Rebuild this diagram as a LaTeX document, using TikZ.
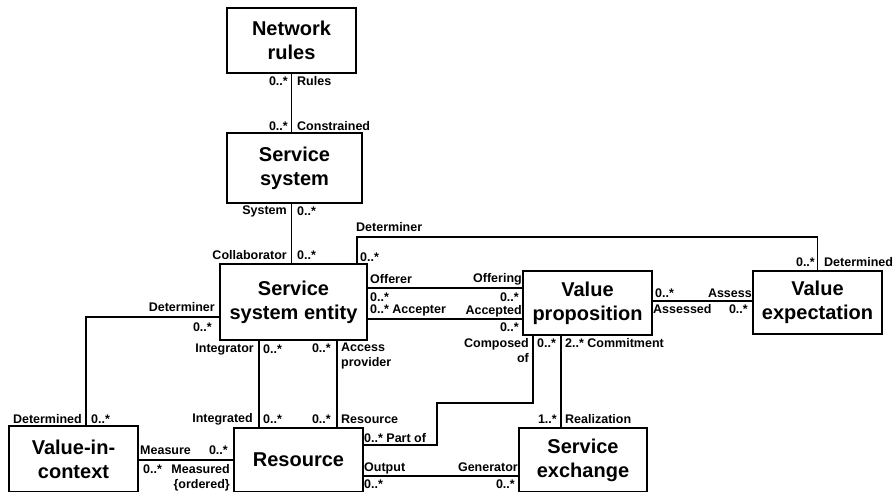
\documentclass[tikz,border=0pt]{standalone}
\usepackage{fontspec}
\setmainfont{Liberation Sans}
\begin{document}
\begin{tikzpicture}[x=1pt,y=-1pt,
  cls/.style={draw, line width=2pt, inner sep=0pt, align=center,
    font=\fontsize{20}{24}\selectfont\bfseries},
  assoc/.style={line width=1.9pt},
  lab/.style={inner sep=0pt, font=\fontsize{12.5}{15}\selectfont\bfseries},
  lw/.style={lab, anchor=west},
  le/.style={lab, anchor=east}]
\useasboundingbox (0,0) rectangle (896,491);
\clip (0,0) rectangle (896,491);
\fill[white] (0,0) rectangle (896,491);

% classes
\node[cls, minimum width=129pt, minimum height=65pt] (nr)  at (291.5,40.5) {Network\\rules};
\node[cls, minimum width=135pt, minimum height=70pt] (ss)  at (294.5,168)  {Service\\system};
\node[cls, minimum width=147pt, minimum height=76pt] (sse) at (293.5,302)  {Service\\system entity};
\node[cls, minimum width=129pt, minimum height=64pt] (vp)  at (587.5,303)  {Value\\proposition};
\node[cls, minimum width=129pt, minimum height=63pt] (ve)  at (817.5,302.5) {Value\\expectation};
\node[cls, minimum width=129pt, minimum height=66pt] (vic) at (73.5,459)   {Value-in-\\context};
\node[cls, minimum width=129pt, minimum height=64pt] (res) at (298.5,460)  {Resource};
\node[cls, minimum width=128pt, minimum height=64pt] (se)  at (583,460)    {Service\\exchange};

% bends of the routed associations
\coordinate (detA) at (357,237);
\coordinate (vicA) at (86,317);
\coordinate (partA) at (437,403);

% associations
\draw[assoc] (nr.south) -- (nr.south |- ss.north);
\draw[assoc] (ss.south -| nr.south) -- (sse.north -| nr.south);
\draw[assoc] (sse.north -| detA) -- (detA) -| (ve.north);
\draw[assoc] (sse.east |- 0,288) -- (vp.west |- 0,288);
\draw[assoc] (sse.east |- 0,319) -- (vp.west |- 0,319);
\draw[assoc] (vp.east |- 0,301) -- (ve.west |- 0,301);
\draw[assoc] (sse.west |- vicA) -- (vicA) -- (vic.north -| vicA);
\draw[assoc] (sse.south -| 259,0) -- (res.north -| 259,0);
\draw[assoc] (sse.south -| 337,0) -- (res.north -| 337,0);
\draw[assoc] (vic.east |- 0,460) -- (res.west |- 0,460);
\draw[assoc] (res.east |- 0,445) -| (partA) -| (vp.south -| 533,0);
\draw[assoc] (vp.south -| 561,0) -- (se.north -| 561,0);
\draw[assoc] (res.east |- 0,476) -- (se.west |- 0,476);

% role names and multiplicities
\node[le] at (288,81) {0..*};
\node[lw] at (297,81) {Rules};
\node[le] at (288,126) {0..*};
\node[lw] at (297,126) {Constrained};

\node[le] at (287,211) {System};
\node[lw] at (297,211) {0..*};
\node[le] at (287,255) {Collaborator};
\node[lw] at (297,255) {0..*};

\node[lw] at (356,227) {Determiner};
\node[lw] at (360,257) {0..*};
\node[le] at (815,262) {0..*};
\node[lw] at (824,262) {Determined};

\node[lw] at (370,279) {Offerer};
\node[lw] at (370,297) {0..*};
\node[le] at (522,279) {Offering};
\node[le] at (519,297) {0..*};

\node[lw] at (370,310) {0..* Accepter};
\node[le] at (522,311) {Accepted};
\node[le] at (519,327) {0..*};

\node[lw] at (655,293) {0..*};
\node[lw] at (653,309) {Assessed};
\node[le] at (752,293) {Assess};
\node[le] at (748,309) {0..*};

\node[le] at (215,307) {Determiner};
\node[le] at (212,327) {0..*};
\node[le] at (82,419) {Determined};
\node[lw] at (91,419) {0..*};

\node[le] at (254,350) {Integrator};
\node[lw] at (263,349) {0..*};
\node[le] at (253,419) {Integrated};
\node[lw] at (263,419) {0..*};

\node[le] at (331,348) {0..*};
\node[lw, align=left] at (341,356) {Access\\provider};
\node[le] at (331,419) {0..*};
\node[lw] at (341,419) {Resource};

\node[lw] at (364,438) {0..* Part of};
\node[le, align=right] at (529,350.5) {Composed\\of};
\node[lw] at (537,343) {0..*};

\node[lw] at (565,343) {2..* Commitment};
\node[le] at (557,419) {1..*};
\node[lw] at (565,419) {Realization};

\node[lw] at (364,468) {Output};
\node[lw] at (364,484) {0..*};
\node[le] at (518,467) {Generator};
\node[le] at (515,484) {0..*};

\node[lw] at (140,450) {Measure};
\node[le] at (228,450) {0..*};
\node[lw] at (143,469) {0..*};
\node[le, align=right] at (230,477.5) {Measured\\\{ordered\}};
\end{tikzpicture}
\end{document}
